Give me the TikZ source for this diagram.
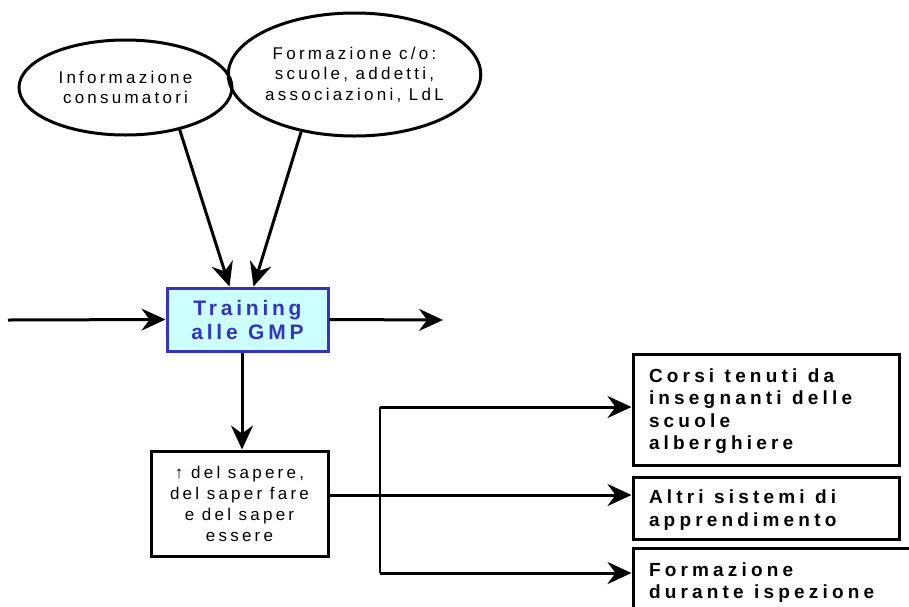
\documentclass[tikz,border=0pt]{standalone}
\usepackage{fontspec}
\usetikzlibrary{arrows.meta,shapes.geometric}
\newfontfamily\regfont[LetterSpace=19]{Liberation Sans}
\newfontfamily\boldfont[LetterSpace=22]{Liberation Sans}
\newfontfamily\titlefont[LetterSpace=18]{Liberation Sans}
\definecolor{tcyan}{HTML}{CCFFFF}
\definecolor{tblue}{HTML}{3333CC}
\newcommand{\topstrut}{\rule{0pt}{17.5pt}}
\newcommand{\regtext}{\regfont\fontsize{17}{20.5}\selectfont\spaceskip 0.45em\relax}
\newcommand{\regboxtext}{\regfont\fontsize{17}{21}\selectfont\spaceskip 0.45em\relax}
\newcommand{\boldtext}{\boldfont\bfseries\fontsize{19}{22.5}\selectfont\spaceskip 0.55em\relax}
\newcommand{\titletext}{\titlefont\bfseries\fontsize{21}{24}\selectfont\spaceskip 0.5em\relax}
\tikzset{
  arr/.style={line width=3pt,-{Stealth[length=24pt,width=22pt,inset=8pt]}},
  ell/.style={ellipse,draw,line width=3pt,inner sep=0pt,align=center,font=\regtext},
  plainbox/.style={rectangle,draw,line width=3pt,inner sep=0pt,align=center,font=\regboxtext},
  outbox/.style={rectangle,draw,line width=3pt,inner xsep=16pt,inner ysep=0pt,
    align=flush left,font=\boldtext},
  trainbox/.style={rectangle,draw=tblue,fill=tcyan,line width=3pt,inner sep=0pt,
    align=center,text=tblue,font=\titletext}
}
\begin{document}
\begin{tikzpicture}[x=1pt,y=-1pt]
\useasboundingbox (0,0) rectangle (909,606);
\clip (0,0) rectangle (909,606);
\node[ell,minimum width=213pt,minimum height=95pt] (e1) at (125.5,87.5) {Informazione\\consumatori};
\node[ell,minimum width=227pt,minimum height=123pt] (e2) at (354.5,74.5) {Formazione c/o:\\scuole, addetti,\\associazioni, LdL};
\node[trainbox,minimum width=161pt,minimum height=63pt] (train) at (247.5,319.5) {Training\\alle GMP};
\node[plainbox,minimum width=177pt,minimum height=105pt] (know) at (239.5,503.5) {↑ del sapere,\\del saper fare\\e del saper\\essere};
\node[outbox,text width=234pt,minimum width=266pt,minimum height=111pt] (corsi) at (766,409.5) {\topstrut Corsi tenuti da\\insegnanti delle\\scuole\\alberghiere};
\node[outbox,text width=234pt,minimum width=266pt,minimum height=62pt] (altri) at (766,508) {\topstrut Altri sistemi di\\apprendimento};
\node[outbox,text width=268pt,minimum width=300pt,minimum height=84pt,anchor=north west] (form) at (631.5,546.5) {Formazione\\durante ispezione\rule[-19pt]{0pt}{19pt}};
\coordinate (inL) at (8,320);
\coordinate (outR) at (443,320);
\coordinate (j1) at (380,407);
\coordinate (j2) at (380,573);
\draw[arr] (e1.-38) -- ([xshift=-18pt]train.north);
\draw[arr] (e2.-133) -- ([xshift=6pt]train.north);
\draw[arr] (inL) -- (train.west);
\draw[arr] (train.east) -- (outR);
\draw[arr] ([xshift=-5.5pt]train.south) -- ([xshift=-5.5pt]train.south |- know.north);
\draw[arr] ([yshift=8.5pt]know.east) -- ([yshift=8.5pt]know.east -| altri.west);
\draw[line width=2pt] (j1) -- (j2);
\draw[arr] (j1) -- (j1 -| corsi.west);
\draw[arr] (j2) -- (j2 -| form.west);
\end{tikzpicture}
\end{document}
